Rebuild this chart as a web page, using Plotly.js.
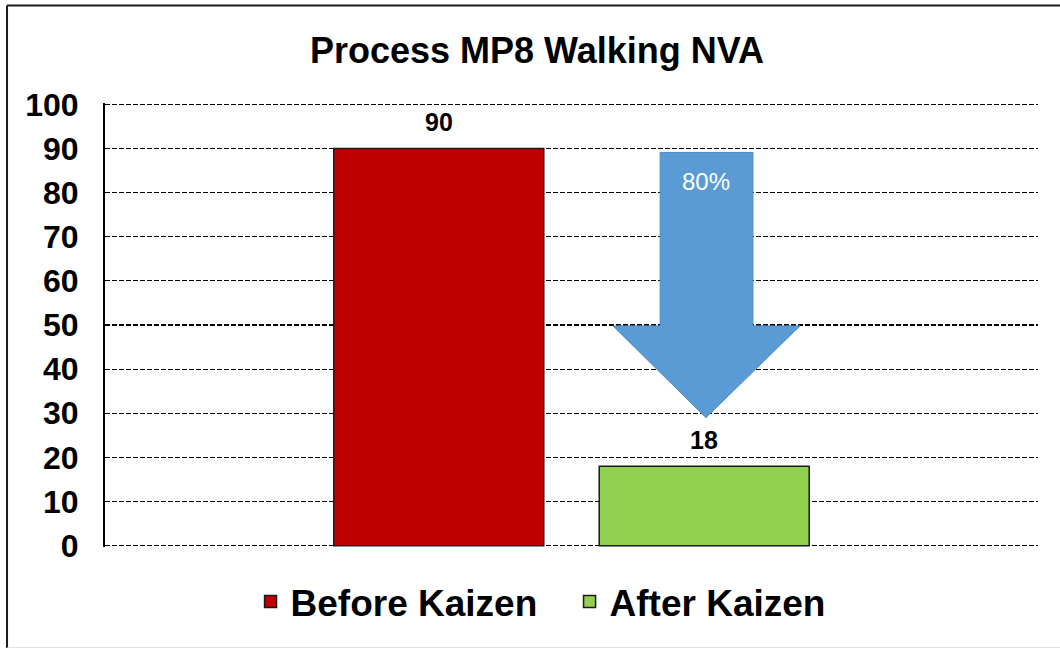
<!DOCTYPE html>
<html>
<head>
<meta charset="utf-8">
<script src="https://cdn.plot.ly/plotly-3.0.1.min.js"></script>
<style>
  html, body { margin: 0; padding: 0; background: #ffffff; }
  #chart { width: 1060px; height: 648px; }
</style>
</head>
<body>
<div id="chart"></div>
<script>
// ---- data ----
const categories = ['Walking NVA'];
const seriesNames = ['Before Kaizen', 'After Kaizen'];
const beforeValues = [90];
const afterValues = [18];
const yTickValues = [0, 10, 20, 30, 40, 50, 60, 70, 80, 90, 100];
const chartTitle = 'Process MP8 Walking NVA';

const FONT = '"Liberation Sans", Arial, sans-serif';
const reduction = Math.round((beforeValues[0] - afterValues[0]) / beforeValues[0] * 100);

const BARGAP = 0.431, BARGROUPGAP = 0.209;
const M = { l: 105, r: 22, t: 103, b: 101 };
const plotW = 1060 - M.l - M.r;
const slotW = plotW * (1 - BARGAP) / 2;

const traces = [
  {
    type: 'bar', name: seriesNames[0], x: categories, y: beforeValues,
    marker: { color: '#C00000', line: { color: '#1a1a1a', width: 1.5 } }
  },
  {
    type: 'bar', name: seriesNames[1], x: categories, y: afterValues,
    marker: { color: '#92D050', line: { color: '#1a1a1a', width: 1.5 } }
  }
];

// value labels placed at each bar top through the axes
const valueLabels = [];
[beforeValues, afterValues].forEach((vals, si) => {
  vals.forEach((v, ci) => {
    valueLabels.push({
      xref: 'x', yref: 'y', x: categories[ci], y: v, text: String(v),
      showarrow: false, yanchor: 'bottom', yshift: 10,
      xshift: (si === 0 ? -1 : 1) * slotW / 2,
      font: { family: FONT, size: 25, color: '#000000', weight: 'bold' }
    });
  });
});

// arrow geometry (x in paper fraction, y in data units)
const ax = { sl: 0.595, sr: 0.6945, hl: 0.5445, hr: 0.7449, tip: 0.6441 };
const ay = { top: 89.1, base: 49.8, tip: 29.0 };
const arrowPath = `M${ax.sl},${ay.top} L${ax.sr},${ay.top} L${ax.sr},${ay.base} L${ax.hr},${ay.base} L${ax.tip},${ay.tip} L${ax.hl},${ay.base} L${ax.sl},${ay.base} Z`;

const layout = {
  width: 1060, height: 648,
  margin: M,
  paper_bgcolor: '#ffffff', plot_bgcolor: '#ffffff',
  font: { family: FONT, color: '#000000' },
  title: {
    text: chartTitle, xref: 'container', x: 0.5066, xanchor: 'center',
    yref: 'container', y: 0.922, yanchor: 'middle',
    font: { family: FONT, size: 36, color: '#000000', weight: 'bold' }
  },
  barmode: 'group', bargap: BARGAP, bargroupgap: BARGROUPGAP,
  xaxis: {
    type: 'category', showticklabels: false, showgrid: false, zeroline: false,
    showline: false, ticks: '', fixedrange: true
  },
  yaxis: {
    range: [-0.3, 100.3], tickvals: yTickValues, showgrid: true,
    gridcolor: '#000000', gridwidth: 1.2, griddash: '5px,2px',
    zeroline: false, showline: true, linecolor: '#000000', linewidth: 2,
    ticks: '', ticklabelstandoff: 18,
    tickfont: { family: FONT, size: 32, color: '#000000', weight: 'bold' }
  },
  showlegend: true,
  legend: {
    orientation: 'h', x: 0.156, xanchor: 'left', y: -0.124, yanchor: 'middle',
    font: { family: FONT, size: 37, color: '#000000', weight: 'bold' },
    itemwidth: 30, entrywidthmode: 'pixels', entrywidth: 274,
    bgcolor: 'rgba(0,0,0,0)'
  },
  shapes: [
    { type: 'path', xref: 'paper', yref: 'y', path: arrowPath,
      fillcolor: '#5B9BD5', line: { color: '#4F8CC6', width: 1 }, layer: 'above' },
    // outer frame
    { type: 'line', xref: 'paper', yref: 'paper', x0: -0.105, x1: 1.1, y0: 1.2195, y1: 1.2195,
      line: { color: '#1a1a1a', width: 2 } },
    { type: 'line', xref: 'paper', yref: 'paper', x0: -0.105, x1: -0.105, y0: 1.2195, y1: -0.23,
      line: { color: '#1a1a1a', width: 2 } },
    { type: 'line', xref: 'paper', yref: 'paper', x0: -0.105, x1: 1.1, y0: -0.227, y1: -0.227,
      line: { color: '#d9d9d9', width: 1 } }
  ],
  annotations: valueLabels.concat([
    { xref: 'paper', yref: 'y', x: 0.6441, y: 82.5, text: reduction + '%', showarrow: false,
      font: { family: FONT, size: 24, color: '#ffffff' } }
  ])
};

Plotly.newPlot('chart', traces, layout, { displayModeBar: false, staticPlot: true });
</script>
</body>
</html>
